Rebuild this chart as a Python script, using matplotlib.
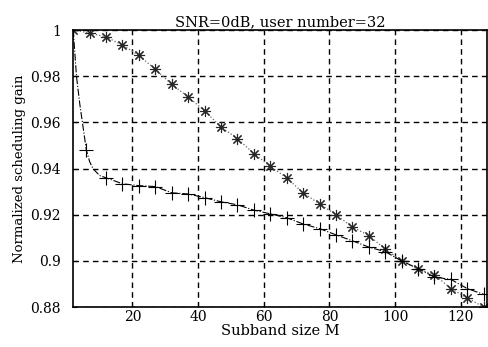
import matplotlib.pyplot as plt
import numpy as np
plt.rcParams.update({'font.size': 10, 'font.family': 'DejaVu Serif'})

# upper curve (asterisk markers)
m_star = [2, 7, 12, 17, 22, 27, 32, 37, 42, 47, 52, 57, 62, 67, 72, 77, 82,
          87, 92, 97, 102, 107, 112, 117, 122, 127]
g_star = [1.0, 0.9987, 0.997, 0.9935, 0.989, 0.983, 0.9765, 0.971, 0.965,
          0.958, 0.953, 0.9465, 0.941, 0.936, 0.9295, 0.9247, 0.92, 0.9147,
          0.911, 0.9052, 0.900, 0.8965, 0.894, 0.888, 0.884, 0.880]

# lower curve (plus markers)
m_plus = [2, 3, 4, 5, 6, 7, 8, 10, 12, 17, 22, 27, 32, 37, 42, 47, 52, 57,
          62, 67, 72, 77, 82, 87, 92, 97, 102, 107, 112, 117, 122, 127]
g_plus = [1.0, 0.98, 0.968, 0.958, 0.948, 0.943, 0.94, 0.937, 0.936, 0.9334,
          0.9326, 0.9322, 0.9295, 0.929, 0.9274, 0.9256, 0.9243, 0.922,
          0.9204, 0.9187, 0.916, 0.914, 0.9113, 0.9087, 0.906, 0.904, 0.900,
          0.8967, 0.893, 0.892, 0.888, 0.8855]
plus_marks = [0, 4] + list(range(8, len(m_plus)))

xticks = [20, 40, 60, 80, 100, 120]
yticks = [0.88, 0.9, 0.92, 0.94, 0.96, 0.98, 1]
ytick_labels = ['0.88', '0.9', '0.92', '0.94', '0.96', '0.98', '1']

fig = plt.figure(figsize=(4.88, 3.47), dpi=100)
ax = fig.add_axes([0.15, 0.115, 0.848, 0.7985])

ax.plot(m_star, g_star, color='0.4', linestyle=':', linewidth=0.9,
        marker=(8, 2, 0), markersize=8, markeredgecolor='0.15',
        markeredgewidth=0.8)
ax.plot(m_plus, g_plus, color='black', linestyle='-.', linewidth=0.8,
        marker='+', markersize=10, markeredgewidth=0.8, markevery=plus_marks)

ax.set_xlim(2, 128)
ax.set_ylim(0.88, 1.0)
ax.set_xticks(xticks)
ax.set_yticks(yticks)
ax.set_yticklabels(ytick_labels)
ax.tick_params(direction='in', length=3, labelsize=10)
ax.tick_params(axis='x', pad=2)
ax.tick_params(axis='y', pad=9)
ax.grid(True, color='black', linestyle=(0, (4, 3)), linewidth=1.0)
for s in ax.spines.values():
    s.set_linewidth(1.2)

ax.set_title('SNR=0dB, user number=32', fontsize=10.5, pad=3)
ax.set_xlabel('Subband size M', fontsize=10.5, labelpad=0)
ax.set_ylabel('Normalized scheduling gain', fontsize=9.5, labelpad=3)

plt.savefig('out.png', dpi=100)
plt.close()
